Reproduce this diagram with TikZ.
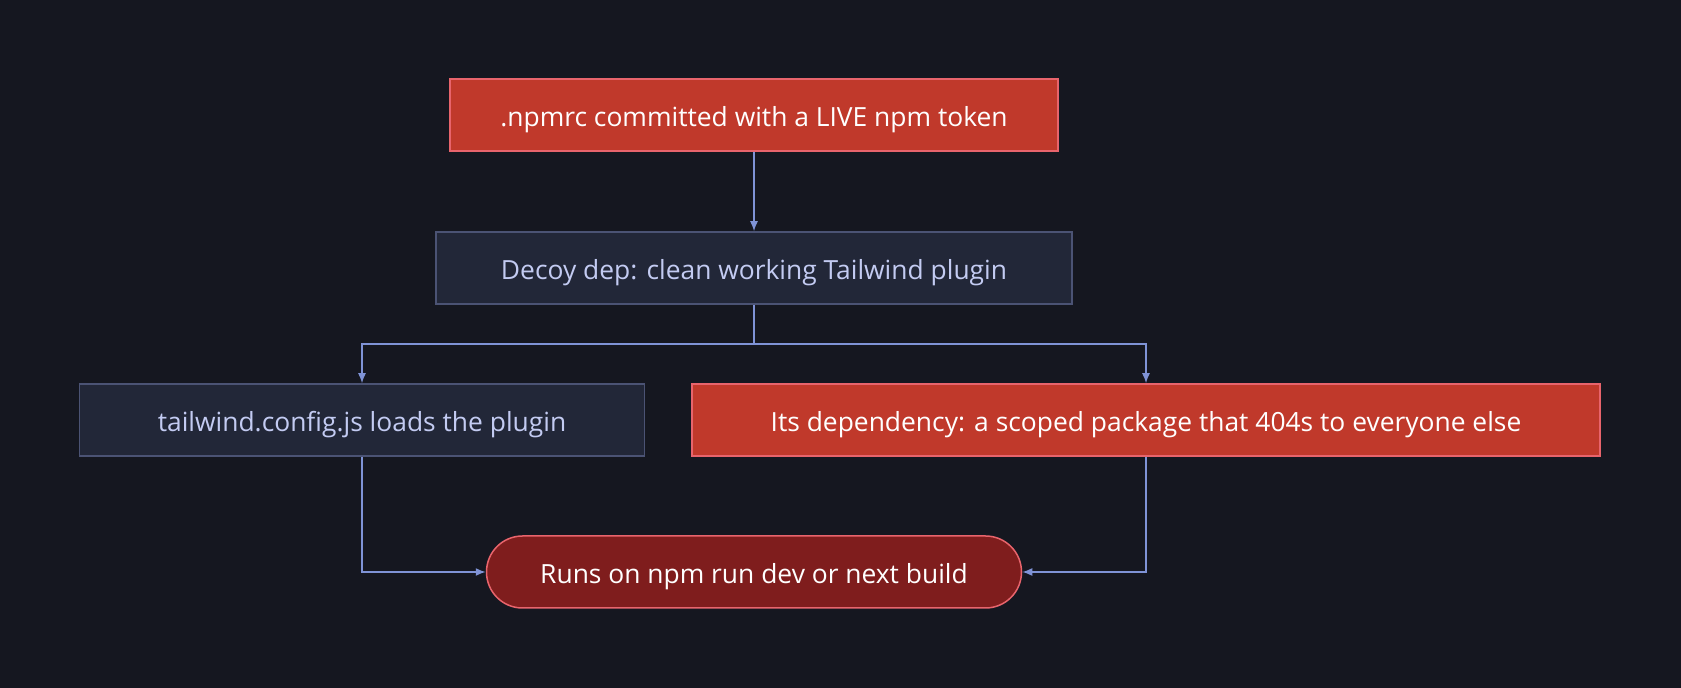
\documentclass[tikz,border=0pt]{standalone}
\usepackage{fontspec}
\setmainfont{Open Sans}
\usetikzlibrary{arrows.meta, shapes.misc}
\definecolor{canvas}{HTML}{151720}
\definecolor{alertfill}{HTML}{C0392B}
\definecolor{alertedge}{HTML}{E8646C}
\definecolor{plainfill}{HTML}{222738}
\definecolor{plainedge}{HTML}{4B5374}
\definecolor{plaintext}{HTML}{C3CBF2}
\definecolor{runfill}{HTML}{7F1D1D}
\definecolor{linkcol}{HTML}{7F93D6}

\begin{document}
\begin{tikzpicture}[x=0.5pt, y=-0.5pt,
    box/.style={rectangle, line width=0.75pt, minimum height=36pt, inner sep=0pt,
        text height=12pt, text depth=0pt, font=\fontsize{13.2pt}{15pt}\selectfont},
    alertbox/.style={box, fill=alertfill, draw=alertedge, text=white},
    plainbox/.style={box, fill=plainfill, draw=plainedge, text=plaintext},
    runbox/.style={box, rounded rectangle, fill=runfill, draw=alertedge, text=white},
    link/.style={draw=linkcol, line width=0.75pt, -{Latex[length=5pt, width=4pt]}}]
        \fill[canvas] (0,0) rectangle (1681,688);
        \useasboundingbox (0,0) rectangle (1681,688);

        \node[alertbox, minimum width=304pt] (token) at (754,115) {.npmrc committed with a LIVE npm token};
        \node[plainbox, minimum width=318pt] (decoy) at (754,268) {Decoy dep: clean working Tailwind plugin};
        \node[plainbox, minimum width=282.5pt] (config) at (362,420) {tailwind.config.js loads the plugin};
        \node[alertbox, minimum width=454pt] (scoped) at (1146,420) {Its dependency: a scoped package that 404s to everyone else};
        \node[runbox, minimum width=267.5pt] (runs) at (754,572) {Runs on npm run dev or next build};

        \draw[link] (token) -- (decoy);
        \draw[link] (decoy.south) |- (362,344) -- (config.north);
        \draw[link] (decoy.south) |- (1146,344) -- (scoped.north);
        \draw[link] (config.south) |- (runs.west);
        \draw[link] (scoped.south) |- (runs.east);
    \end{tikzpicture}
\end{document}
